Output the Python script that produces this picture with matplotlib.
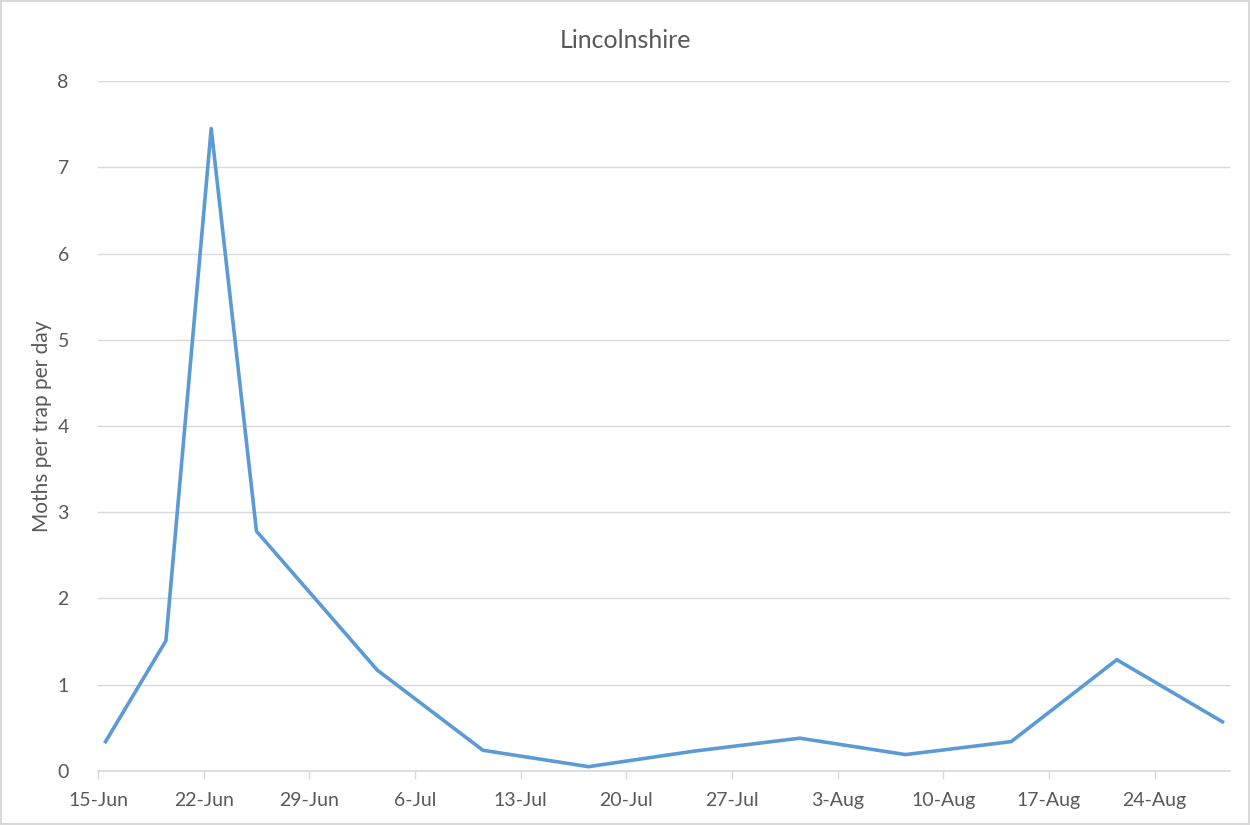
import datetime as dt
import matplotlib
matplotlib.use("Agg")
import matplotlib.pyplot as plt
import matplotlib.dates as mdates
from matplotlib.ticker import FuncFormatter

plt.rcParams['font.family'] = ['Lato', 'DejaVu Sans']

# sample dates (2019) and moths per trap per day
dates = ['2019-06-15', '2019-06-19', '2019-06-22', '2019-06-25', '2019-07-03',
         '2019-07-10', '2019-07-17', '2019-07-24', '2019-07-31', '2019-08-07',
         '2019-08-14', '2019-08-21', '2019-08-28']
moths = [0.34, 1.51, 7.45, 2.78, 1.17, 0.24, 0.05, 0.23, 0.38, 0.19, 0.34, 1.29, 0.57]

tick_dates = ['2019-06-15', '2019-06-22', '2019-06-29', '2019-07-06', '2019-07-13',
              '2019-07-20', '2019-07-27', '2019-08-03', '2019-08-10', '2019-08-17',
              '2019-08-24']

grey = '#595959'
grid = '#d9d9d9'

# Excel-style date axis: points sit in the middle of their day
x = [mdates.date2num(dt.datetime.fromisoformat(d)) + 0.5 for d in dates]
ticks = [mdates.date2num(dt.datetime.fromisoformat(d)) for d in tick_dates]

fig = plt.figure(figsize=(12.5, 8.25), dpi=100)
fig.patch.set_edgecolor(grid)
fig.patch.set_linewidth(1.5)
ax = fig.add_axes([0.0784, 0.0655, 0.9056, 0.8363])

ax.plot(x, moths, color='#5B9BD5', linewidth=2.6, solid_joinstyle='round')

ax.set_xlim(ticks[0], mdates.date2num(dt.datetime(2019, 8, 29)))
ax.set_ylim(0, 8)
ax.set_yticks(range(0, 9))
ax.set_xticks(ticks)


def fmt(v, pos):
    d = mdates.num2date(v)
    return '%d-%s' % (d.day, d.strftime('%b'))


ax.xaxis.set_major_formatter(FuncFormatter(fmt))

ax.grid(axis='y', color=grid, linewidth=1)
ax.set_axisbelow(True)
for s in ['top', 'right', 'left']:
    ax.spines[s].set_visible(False)
ax.spines['bottom'].set_color(grid)
ax.spines['bottom'].set_linewidth(1.2)
ax.tick_params(axis='x', colors=grey, labelsize=14, length=6, width=1, color=grid, pad=9)
ax.tick_params(axis='y', colors=grey, labelsize=14, length=0, pad=21)

ax.set_ylabel('Moths per trap per day', color=grey, fontsize=15, labelpad=4)
fig.text(0.5, 0.951, 'Lincolnshire', ha='center', va='center', color=grey, fontsize=18)

fig.savefig('out.png', dpi=100)
